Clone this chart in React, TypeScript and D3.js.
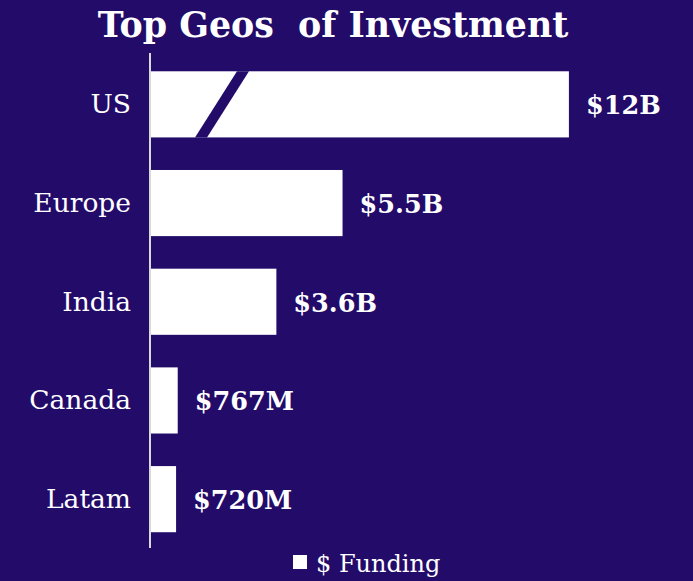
import React from "react";
import * as d3 from "d3";

const categories = ["US", "Europe", "India", "Canada", "Latam"];
const values = [12, 5.5, 3.6, 0.767, 0.72];
const valueLabels = ["$12B", "$5.5B", "$3.6B", "$767M", "$720M"];
const seriesName = "$ Funding";
const title = "Top Geos  of Investment";

const W = 693;
const H = 581;
const BG = "#230B6A";
const FONT = "'DejaVu Serif', 'Liberation Serif', serif";

export default function App() {
  const x = d3.scaleLinear().domain([0, 12.06]).range([151, 571]);
  const y = d3
    .scaleBand<string>()
    .domain(categories)
    .range([55, 548.5])
    .paddingInner(0.33)
    .paddingOuter(0.165);
  const bh = y.bandwidth();
  const usY = y("US")!;
  // broken-axis slash on the first bar
  const slashTopX = 237;
  const slashBotX = 195;
  const slashW = 12;

  return (
    <svg
      width={W}
      height={H}
      style={{ position: "absolute", left: 0, top: 0, display: "block" }}
    >
      <rect x={0} y={0} width={W} height={H} fill={BG} />
      <text
        x={333}
        y={37}
        textAnchor="middle"
        fill="#fff"
        fontFamily={FONT}
        fontWeight="bold"
        fontSize={34.8}
        style={{ whiteSpace: "pre" }}
      >
        {title}
      </text>
      {categories.map((c, i) => (
        <g key={c}>
          <rect
            x={x(0)}
            y={y(c)!}
            width={x(values[i]) - x(0)}
            height={bh}
            fill="#fff"
          />
          <text
            x={131}
            y={y(c)! + bh / 2 + 9}
            textAnchor="end"
            fill="#fff"
            fontFamily={FONT}
            fontSize={26.5}
          >
            {c}
          </text>
          <text
            x={x(values[i]) + 17}
            y={y(c)! + bh / 2 + 10}
            fill="#fff"
            fontFamily={FONT}
            fontWeight="bold"
            fontSize={25.5}
          >
            {valueLabels[i]}
          </text>
        </g>
      ))}
      <polygon
        points={`${slashTopX},${usY} ${slashTopX + slashW},${usY} ${slashBotX + slashW},${usY + bh} ${slashBotX},${usY + bh}`}
        fill={BG}
      />
      <line x1={150} x2={150} y1={53} y2={548} stroke="#d9d9d9" strokeWidth={2} />
      <rect x={293} y={555} width={14} height={14} fill="#fff" />
      <text x={316} y={572} fill="#fff" fontFamily={FONT} fontSize={24}>
        {seriesName}
      </text>
    </svg>
  );
}
